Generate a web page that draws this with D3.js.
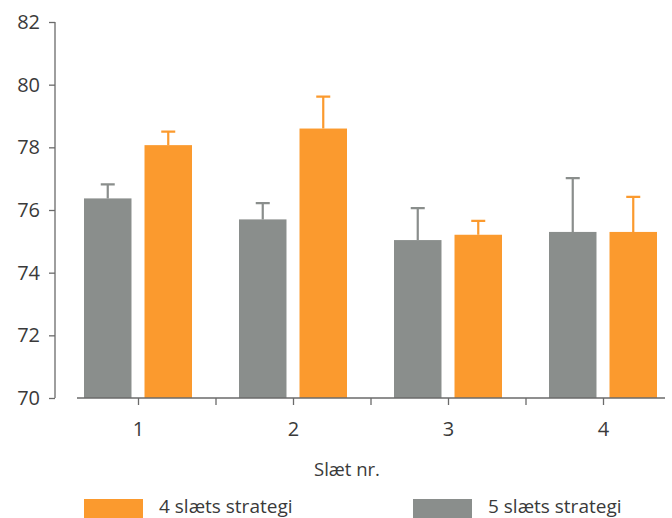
<!DOCTYPE html>
<html>
<head>
<meta charset="utf-8">
<script src="https://cdn.jsdelivr.net/npm/d3@7"></script>
<style>
  body { margin: 0; background: #fff; }
  text { font-family: "Open Sans", "Noto Sans", sans-serif; fill: #3a3a3a; }
</style>
</head>
<body>
<svg id="chart"></svg>
<script>
const width = 672;
const height = 518;

// data
const slaet = ["1", "2", "3", "4"];
const strategies = ["5 slæts strategi", "4 slæts strategi"];
const mean5 = [76.37, 75.7, 75.04, 75.3];
const err5 = [0.45, 0.52, 1.02, 1.72];
const mean4 = [78.07, 78.6, 75.21, 75.3];
const err4 = [0.43, 1.02, 0.44, 1.12];
const yTicks = [70, 72, 74, 76, 78, 80, 82];

const colors = { "5 slæts strategi": "#8a8e8c", "4 slæts strategi": "#fb9a2e" };

const rows = slaet.map((s, i) => ({
    slaet: s,
    bars: [
        { key: strategies[0], value: mean5[i], err: err5[i] },
        { key: strategies[1], value: mean4[i], err: err4[i] }
    ]
}));

const svg = d3.select("#chart")
    .attr("width", width)
    .attr("height", height);

const y = d3.scaleLinear().domain([70, 82]).range([398, 22]);
const x = d3.scaleBand().domain(slaet).range([61, 681]);
const x1 = d3.scaleBand().domain(strategies).range([-54.5, 53.5]).paddingInner(0.215);

// y axis
const yAxis = svg.append("g")
    .attr("transform", "translate(55,0)")
    .call(d3.axisLeft(y).tickValues(yTicks).tickSize(6).tickPadding(9));
yAxis.select(".domain").attr("stroke", "#6a6a6a").attr("stroke-width", 1.3)
    .attr("d", `M0,${y(82)}V${y(70)}`);
yAxis.selectAll(".tick line").attr("stroke", "#6a6a6a").attr("stroke-width", 1.3);
yAxis.selectAll(".tick text").style("font-size", "20px").attr("fill", "#3a3a3a");

// groups of bars
const groups = svg.append("g").selectAll("g")
    .data(rows)
    .join("g")
    .attr("transform", d => `translate(${x(d.slaet) + x.bandwidth() / 2},0)`);

// error whiskers (upper only)
groups.selectAll(".whisker")
    .data(d => d.bars)
    .join("path")
    .attr("class", "whisker")
    .attr("fill", "none")
    .attr("stroke", d => colors[d.key])
    .attr("stroke-width", 2.2)
    .attr("d", d => {
        const cx = x1(d.key) + x1.bandwidth() / 2;
        return `M${cx},${y(d.value)}V${y(d.value + d.err)}M${cx - 7},${y(d.value + d.err)}H${cx + 7}`;
    });

groups.selectAll("rect")
    .data(d => d.bars)
    .join("rect")
    .attr("x", d => x1(d.key))
    .attr("width", x1.bandwidth())
    .attr("y", d => y(d.value))
    .attr("height", d => y(70) - y(d.value))
    .attr("fill", d => colors[d.key]);

// x axis: baseline with ticks at centres and between groups
const xAxis = svg.append("g");
xAxis.append("line")
    .attr("x1", 77).attr("x2", 665)
    .attr("y1", y(70)).attr("y2", y(70))
    .attr("stroke", "#6a6a6a").attr("stroke-width", 1.3);

const tickXs = [];
slaet.forEach((s, i) => {
    tickXs.push(x(s) + x.bandwidth() / 2);
    if (i < slaet.length - 1) tickXs.push(x(s) + x.bandwidth());
});
xAxis.selectAll(".xt")
    .data(tickXs)
    .join("line")
    .attr("class", "xt")
    .attr("x1", d => d).attr("x2", d => d)
    .attr("y1", y(70)).attr("y2", y(70) + 7)
    .attr("stroke", "#6a6a6a").attr("stroke-width", 1.3);

xAxis.selectAll(".xl")
    .data(slaet)
    .join("text")
    .attr("class", "xl")
    .attr("x", d => x(d) + x.bandwidth() / 2)
    .attr("y", 436)
    .attr("text-anchor", "middle")
    .style("font-size", "20px")
    .text(d => d);

svg.append("text")
    .attr("x", 347)
    .attr("y", 476)
    .attr("text-anchor", "middle")
    .style("font-size", "18.5px")
    .text("Slæt nr.");

// legend
const legendItems = [
    { key: "4 slæts strategi", x: 84 },
    { key: "5 slæts strategi", x: 413 }
];
const legend = svg.append("g").selectAll("g")
    .data(legendItems)
    .join("g")
    .attr("transform", d => `translate(${d.x},499)`);
legend.append("rect")
    .attr("width", 59).attr("height", 19)
    .attr("fill", d => colors[d.key]);
legend.append("text")
    .attr("x", 75)
    .attr("y", 14)
    .style("font-size", "19px")
    .text(d => d.key);
</script>
</body>
</html>
